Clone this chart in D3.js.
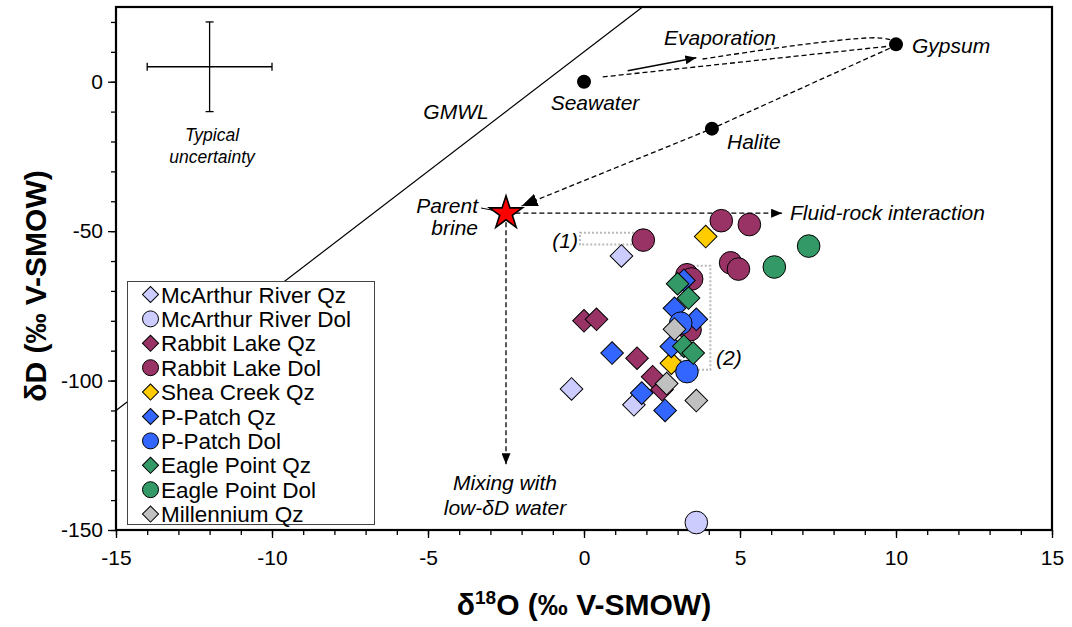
<!DOCTYPE html>
<html>
<head>
<meta charset="utf-8">
<script src="https://cdn.jsdelivr.net/npm/d3@7"></script>
<style>
body { margin: 0; background: #fff; }
svg text { font-family: "Liberation Sans", Arial, Helvetica, sans-serif; }
</style>
</head>
<body>
<div class="chart"></div>
<script>
"use strict"

// series (legend order = drawing order)
const seriesNames = ["McArthur River Qz", "McArthur River Dol", "Rabbit Lake Qz", "Rabbit Lake Dol",
    "Shea Creek Qz", "P-Patch Qz", "P-Patch Dol", "Eagle Point Qz", "Eagle Point Dol", "Millennium Qz"];
const seriesColors = ["#ccccff", "#ccccff", "#993366", "#993366", "#ffcc00",
    "#3366ff", "#3366ff", "#339966", "#339966", "#c0c0c0"];
const seriesShapes = ["diamond", "circle", "diamond", "circle", "diamond",
    "diamond", "circle", "diamond", "circle", "diamond"];

// [d18O, dD]
const mcarthurQz = [[1.2, -58.3], [-0.4, -102.8], [1.6, -108.1]];
const mcarthurDol = [[3.6, -147.5]];
const rabbitQz = [[0.0, -80], [0.4, -79.5], [1.7, -92.5], [2.2, -98.7], [2.5, -103]];
const rabbitDol = [[1.9, -53], [4.4, -46.5], [5.3, -47.8], [4.7, -60.6], [4.95, -62.7],
    [3.3, -64.6], [3.45, -66], [3.4, -83]];
const sheaQz = [[3.9, -51.8], [2.8, -94.2]];
const ppatchQz = [[0.9, -90.8], [1.85, -104.2], [2.6, -110], [2.9, -75.8], [3.6, -79.5],
    [2.8, -88.6], [3.2, -66.5]];
const ppatchDol = [[3.1, -80.8], [3.3, -97]];
const eagleQz = [[3.0, -67.6], [3.35, -72.4], [3.2, -88.5], [3.5, -90.8]];
const eagleDol = [[6.1, -62], [7.2, -55]];
const millenniumQz = [[2.9, -82.8], [2.65, -101], [3.6, -106.7]];
const seriesData = [mcarthurQz, mcarthurDol, rabbitQz, rabbitDol, sheaQz,
    ppatchQz, ppatchDol, eagleQz, eagleDol, millenniumQz];

// end members and paths
const endMembers = [["Seawater", 0, 0], ["Gypsum", 10, 12.5], ["Halite", 4.1, -15.7]];
const parentBrine = [-2.5, -44];
const evapLower = [[0.6, 1.6], [9.7, 11.8]];
const evapUpper = [[3.8, 7.6], [6.9, 12.3], [9.2, 14.7], [10, 13.4]];
const evapArrow = [[1.4, 3.7], [3.6, 8.0]];
const brinePath = [[9.8, 11.2], [4.1, -15.7], [-2.0, -41.6]];
const fluidRock = [[-2.2, -44], [6.35, -44]];
const mixing = [[-2.5, -47], [-2.5, -128]];
const box1 = [[-0.13, -50.5], [2.12, -54.5]];
const box2 = [[3.1, -61.6], [4.05, -96.4]];
const uncertainty = { x: -12, y: 5, dx: 2, dy: 15 };

const xTicksMajor = [-15, -10, -5, 0, 5, 10, 15];
const yTicksMajor = [-150, -100, -50, 0];

const width = 1072, height = 627;
const mLeft = 116, mRight = 1052, mTop = 7, mBottom = 530;

const svg = d3.select("div.chart").append("svg")
    .attr("width", width)
    .attr("height", height);

const x = d3.scaleLinear().domain([-15, 15]).range([mLeft, mRight]);
const y = d3.scaleLinear().domain([-150, 25]).range([mBottom, mTop]);

const defs = svg.append("defs");
function addMarker(id, w, h) {
    defs.append("marker")
        .attr("id", id)
        .attr("markerUnits", "userSpaceOnUse")
        .attr("markerWidth", w).attr("markerHeight", h)
        .attr("viewBox", "0 0 " + w + " " + h)
        .attr("refX", w).attr("refY", h / 2)
        .attr("orient", "auto")
        .append("path")
        .attr("d", "M0,0 L" + w + "," + h / 2 + " L0," + h + " Z")
        .attr("fill", "#000");
}
addMarker("arrow", 11, 9);
addMarker("arrowBig", 16, 13);

// axes (plain hyphen for negatives)
const fmt = d => String(d);
const xAxisMinor = d3.axisBottom(x).tickValues(d3.range(-15, 16, 1)).tickSize(5).tickFormat("");
const xAxisMajor = d3.axisBottom(x).tickValues(xTicksMajor).tickSize(8).tickPadding(12).tickFormat(fmt);
const yAxisMinor = d3.axisLeft(y).tickValues(d3.range(-150, 21, 10)).tickSize(5).tickFormat("");
const yAxisMajor = d3.axisLeft(y).tickValues(yTicksMajor).tickSize(8).tickPadding(5).tickFormat(fmt);

[xAxisMinor, xAxisMajor].forEach(a => {
    svg.append("g").attr("class", "x-axis")
        .attr("transform", "translate(0," + mBottom + ")")
        .call(a);
});
[yAxisMinor, yAxisMajor].forEach(a => {
    svg.append("g").attr("class", "y-axis")
        .attr("transform", "translate(" + mLeft + ",0)")
        .call(a);
});
svg.selectAll(".x-axis path.domain, .y-axis path.domain").remove();
svg.selectAll(".x-axis line, .y-axis line").attr("stroke", "#000").attr("stroke-width", 1.3);
svg.selectAll(".x-axis text, .y-axis text")
    .attr("font-size", 21)
    .attr("fill", "#000")
    .style("font-family", "'Liberation Sans', Arial, sans-serif");

svg.append("rect")
    .attr("x", mLeft).attr("y", mTop)
    .attr("width", mRight - mLeft).attr("height", mBottom - mTop)
    .attr("fill", "none")
    .attr("stroke", "#000")
    .attr("stroke-width", 2.2);

// axis titles
const xTitle = svg.append("text")
    .attr("x", (mLeft + mRight) / 2).attr("y", 615)
    .attr("text-anchor", "middle")
    .attr("font-size", 30).attr("font-weight", "bold");
xTitle.append("tspan").text("δ");
xTitle.append("tspan").attr("font-size", 19).attr("dy", -11).text("18");
xTitle.append("tspan").attr("dy", 11).text("O (‰ V-SMOW)");

svg.append("text")
    .attr("transform", "translate(46,286) rotate(-90)")
    .attr("text-anchor", "middle")
    .attr("font-size", 30).attr("font-weight", "bold")
    .text("δD (‰ V-SMOW)");

// GMWL: dD = 8 d18O + 10
const plot = svg.append("g");
const gmwlX = [-15, (25 - 10) / 8];
plot.append("line")
    .attr("x1", x(gmwlX[0])).attr("y1", y(8 * gmwlX[0] + 10))
    .attr("x2", x(gmwlX[1])).attr("y2", y(8 * gmwlX[1] + 10))
    .attr("stroke", "#000").attr("stroke-width", 1.2);

const line = d3.line().x(d => x(d[0])).y(d => y(d[1]));

// dotted boxes
[box1, box2].forEach(b => {
    plot.append("rect")
        .attr("x", x(b[0][0])).attr("y", y(b[0][1]))
        .attr("width", x(b[1][0]) - x(b[0][0]))
        .attr("height", y(b[1][1]) - y(b[0][1]))
        .attr("fill", "none")
        .attr("stroke", "#b8b8b8")
        .attr("stroke-width", 2)
        .attr("stroke-dasharray", "2,2");
});

// uncertainty cross
const u = uncertainty;
const cap = 4;
const cross = plot.append("g").attr("stroke", "#000").attr("stroke-width", 1.3);
cross.append("line").attr("x1", x(u.x - u.dx)).attr("x2", x(u.x + u.dx)).attr("y1", y(u.y)).attr("y2", y(u.y));
cross.append("line").attr("x1", x(u.x)).attr("x2", x(u.x)).attr("y1", y(u.y - u.dy)).attr("y2", y(u.y + u.dy));
cross.append("line").attr("x1", x(u.x - u.dx)).attr("x2", x(u.x - u.dx)).attr("y1", y(u.y) - cap).attr("y2", y(u.y) + cap);
cross.append("line").attr("x1", x(u.x + u.dx)).attr("x2", x(u.x + u.dx)).attr("y1", y(u.y) - cap).attr("y2", y(u.y) + cap);
cross.append("line").attr("x1", x(u.x) - cap).attr("x2", x(u.x) + cap).attr("y1", y(u.y + u.dy)).attr("y2", y(u.y + u.dy));
cross.append("line").attr("x1", x(u.x) - cap).attr("x2", x(u.x) + cap).attr("y1", y(u.y - u.dy)).attr("y2", y(u.y - u.dy));

// dashed trajectories
function dashed(pts, marker, curve) {
    const p = plot.append("path")
        .attr("d", (curve ? d3.line().x(d => x(d[0])).y(d => y(d[1])).curve(curve) : line)(pts))
        .attr("fill", "none")
        .attr("stroke", "#000")
        .attr("stroke-width", 1.3)
        .attr("stroke-dasharray", "5,3");
    if (marker) p.attr("marker-end", "url(#" + marker + ")");
    return p;
}
dashed(evapLower);
dashed(evapUpper, null, d3.curveCardinal);
dashed(brinePath, "arrowBig");
dashed(fluidRock, "arrow");
dashed(mixing, "arrow");

plot.append("path")
    .attr("d", line(evapArrow))
    .attr("stroke", "#000").attr("stroke-width", 1.5)
    .attr("marker-end", "url(#arrow)");

// data points
const diamond = d3.symbol(d3.symbolSquare, 256)();
const diamondSmall = d3.symbol(d3.symbolSquare, 130)();
seriesData.forEach((pts, i) => {
    const g = plot.append("g").attr("class", "series");
    if (seriesShapes[i] === "circle") {
        g.selectAll("circle").data(pts).join("circle")
            .attr("cx", d => x(d[0])).attr("cy", d => y(d[1]))
            .attr("r", 11.3)
            .attr("fill", seriesColors[i])
            .attr("stroke", "#000").attr("stroke-width", 1);
    } else {
        g.selectAll("path").data(pts).join("path")
            .attr("d", diamond)
            .attr("transform", d => "translate(" + x(d[0]) + "," + y(d[1]) + ") rotate(45)")
            .attr("fill", seriesColors[i])
            .attr("stroke", "#000").attr("stroke-width", 1);
    }
});

// end members
endMembers.forEach(e => {
    plot.append("circle")
        .attr("cx", x(e[1])).attr("cy", y(e[2]))
        .attr("r", 7).attr("fill", "#000");
});

// parent brine star
plot.append("line")
    .attr("x1", 481).attr("y1", 208)
    .attr("x2", x(parentBrine[0]) - 8).attr("y2", y(parentBrine[1]) - 2)
    .attr("stroke", "#000").attr("stroke-width", 1);
plot.append("path")
    .attr("d", d3.symbol(d3.symbolStar, 340)())
    .attr("transform", "translate(" + x(parentBrine[0]) + "," + y(parentBrine[1]) + ")")
    .attr("fill", "#ff0000")
    .attr("stroke", "#000").attr("stroke-width", 1.6);

// annotation labels
function label(txt, px, py, anchor, size) {
    return svg.append("text")
        .attr("x", px).attr("y", py)
        .attr("text-anchor", anchor || "start")
        .attr("font-size", size || 21)
        .attr("font-style", "italic")
        .text(txt);
}
label("Evaporation", 720, 45, "middle");
label("Gypsum", 912, 53);
label("Seawater", 595, 110, "middle");
label("Halite", 727, 149);
label("GMWL", 456, 119, "middle");
label("Parent", 478, 213, "end");
label("brine", 478, 235, "end");
label("Fluid-rock interaction", 790, 220);
label("(1)", 578, 248, "end");
label("(2)", 716, 365);
label("Mixing with", 505, 490, "middle");
label("low-δD water", 505, 515, "middle");
label("Typical", 212, 141, "middle", 17.5);
label("uncertainty", 212, 163, "middle", 17.5);

// legend
const lg = svg.append("g");
lg.append("rect")
    .attr("x", 127.5).attr("y", 281.5)
    .attr("width", 247).attr("height", 243)
    .attr("fill", "#fff")
    .attr("stroke", "#444").attr("stroke-width", 1);
const rowH = 24.4;
seriesNames.forEach((name, i) => {
    const cy = 294.5 + i * rowH;
    if (seriesShapes[i] === "circle") {
        lg.append("circle").attr("cx", 150.5).attr("cy", cy).attr("r", 8)
            .attr("fill", seriesColors[i]).attr("stroke", "#000").attr("stroke-width", 1);
    } else {
        lg.append("path").attr("d", diamondSmall)
            .attr("transform", "translate(150.5," + cy + ") rotate(45)")
            .attr("fill", seriesColors[i]).attr("stroke", "#000").attr("stroke-width", 1);
    }
    lg.append("text")
        .attr("x", 161).attr("y", cy + 8)
        .attr("font-size", 22.5)
        .text(name);
});
</script>
</body>
</html>
